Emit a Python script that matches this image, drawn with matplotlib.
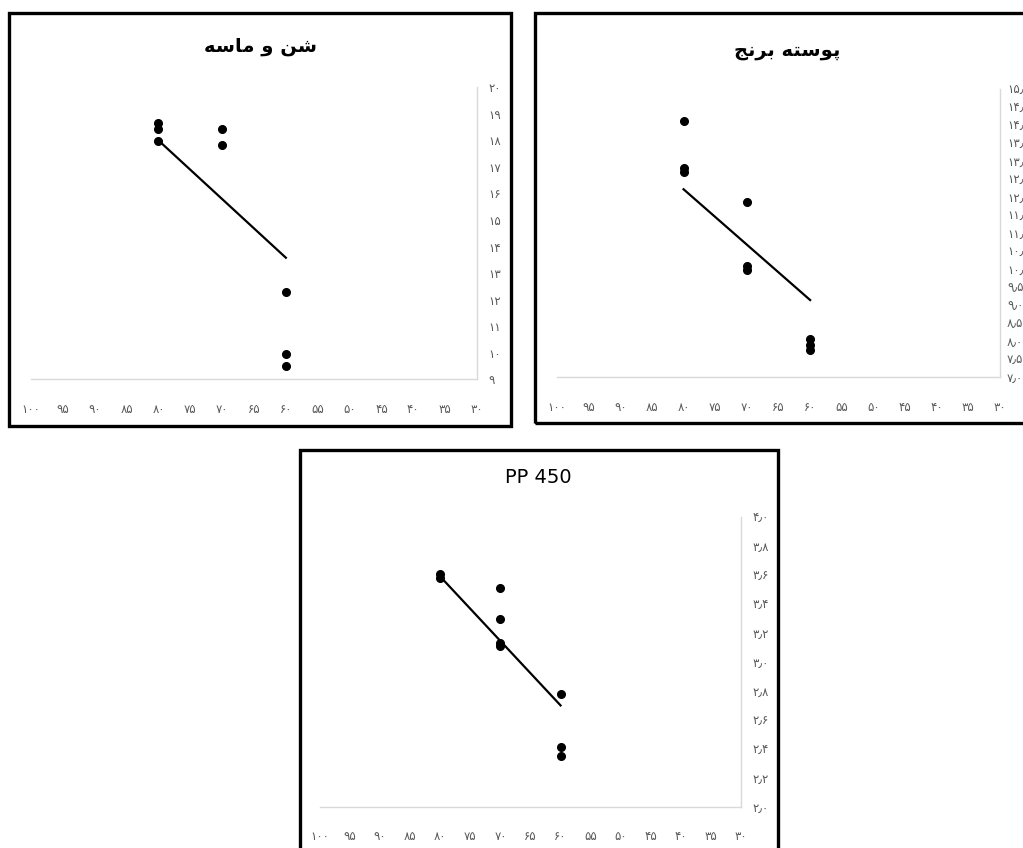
import numpy as np
import matplotlib.pyplot as plt
from matplotlib.patches import Rectangle

plt.rcParams['font.family'] = ['DejaVu Sans']

W, H = 1023, 848

# titles (Arabic presentation forms, laid out left-to-right for display)
title_sand = "\uFEEA\uFEB3\uFE8E\uFEE3 \uFEED \uFEE6\uFEB7"          # شن و ماسه
title_rice = "\uFE9E\uFEE7\uFEAE\uFE91 \uFEEA\uFE98\uFEB3\uFEEE\uFB58"  # پوسته برنج
title_pp = "PP 450"

x_ticks = [100, 95, 90, 85, 80, 75, 70, 65, 60, 55, 50, 45, 40, 35, 30]

# sand
sand_x = [80, 80, 80, 70, 70, 60, 60, 60]
sand_y = [18.65, 18.42, 17.97, 18.43, 17.84, 12.3, 9.97, 9.5]
sand_trend_x = [80, 60]
sand_trend_y = [18.0, 13.58]
sand_yticks = list(range(9, 21))

# rice husk
rice_x = [80, 80, 80, 70, 70, 70, 60, 60, 60]
rice_y = [14.13, 12.8, 12.7, 11.87, 10.08, 9.97, 8.05, 7.9, 7.75]
rice_trend_x = [80, 60]
rice_trend_y = [12.22, 9.14]
rice_yticks = [7.0 + 0.5 * i for i in range(17)]

# PP 450
pp_x = [80, 80, 70, 70, 70, 70, 60, 60, 60]
pp_y = [3.61, 3.58, 3.51, 3.30, 3.13, 3.11, 2.78, 2.41, 2.35]
pp_trend_x = [80, 60]
pp_trend_y = [3.59, 2.70]
pp_yticks = [2.0 + 0.2 * i for i in range(11)]

fa_digits = str.maketrans("0123456789.", "۰۱۲۳۴۵۶۷۸۹٫")


def fa(v, dec):
    return f"{v:.{dec}f}".translate(fa_digits)


fig = plt.figure(figsize=(W / 100, H / 100), dpi=100)


def box(x0, y0, x1, y1):
    r = Rectangle((x0 / W, 1 - y1 / H), (x1 - x0) / W, (y1 - y0) / H,
                  transform=fig.transFigure, fill=False, ec='black', lw=2.4)
    fig.patches.append(r)


def panel(left, right, top, bottom, xs, ys, tx, ty, yticks, ydec, title, tx_pos, ty_pos, bold, ypad=8):
    ax = fig.add_axes([left / W, 1 - bottom / H, (right - left) / W, (bottom - top) / H])
    ax.plot(tx, ty, color='black', lw=1.6, zorder=2)
    ax.plot(xs, ys, 'o', color='black', ms=5.5, zorder=3)
    ax.set_xlim(100, 30)
    ax.set_ylim(yticks[0], yticks[-1])
    ax.set_xticks(x_ticks)
    ax.set_xticklabels([fa(v, 0) for v in x_ticks])
    ax.set_yticks(yticks)
    ax.set_yticklabels([fa(v, ydec) for v in yticks])
    ax.yaxis.tick_right()
    for s in ['left', 'top']:
        ax.spines[s].set_visible(False)
    for s in ['right', 'bottom']:
        ax.spines[s].set_color('#d9d9d9')
        ax.spines[s].set_linewidth(1.0)
    ax.tick_params(length=0, colors='#595959', labelsize=8.5)
    ax.tick_params(axis='x', pad=17)
    ax.tick_params(axis='y', pad=ypad)
    ax.set_facecolor('none')
    fig.text(tx_pos / W, 1 - ty_pos / H, title, ha='center', va='center',
             fontsize=14, fontweight='bold' if bold else 'normal', color='black')
    return ax


box(9, 13, 511, 426)
panel(31, 477, 87.3, 379.3, sand_x, sand_y, sand_trend_x, sand_trend_y,
      sand_yticks, 0, title_sand, 260, 47, True)

box(535, 13, 1030, 423)
panel(557, 1000, 89.3, 377, rice_x, rice_y, rice_trend_x, rice_trend_y,
      rice_yticks, 1, title_rice, 787, 50, True, ypad=5)

box(300, 450, 778, 852)
panel(320, 741, 517.3, 806.7, pp_x, pp_y, pp_trend_x, pp_trend_y,
      pp_yticks, 1, title_pp, 538, 478, False)

fig.savefig('out.png', dpi=100)
